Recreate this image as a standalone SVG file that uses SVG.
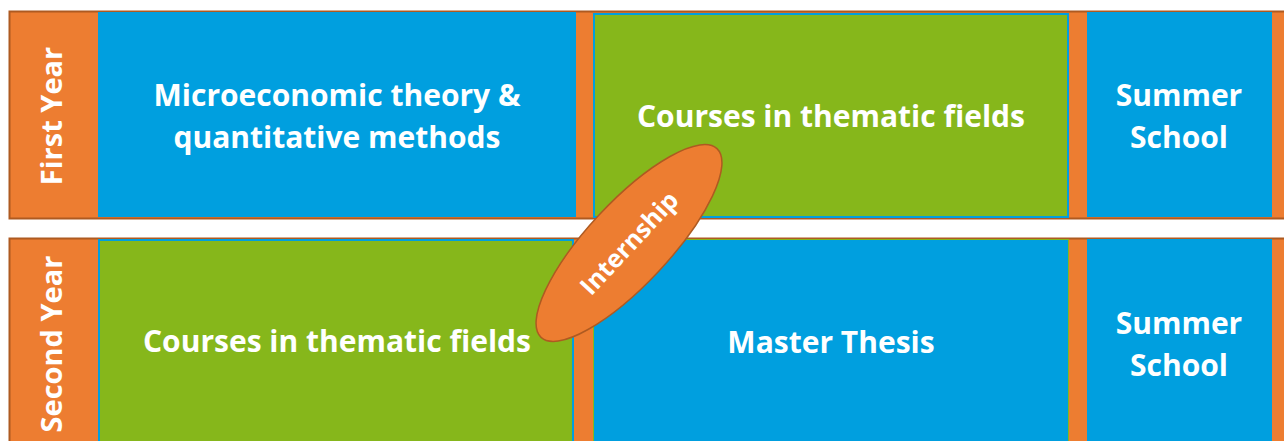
<svg xmlns="http://www.w3.org/2000/svg" width="1284" height="441" viewBox="0 0 1284 441">
<style>
.or{fill:#ED7D31}
.bl{fill:#009FDF}
.gr{fill:#86B71B}
.t{font-family:"Open Sans",Lato,sans-serif;font-weight:bold;fill:#fff;font-size:30px;text-anchor:middle}
</style>
<rect width="1284" height="441" fill="#fff"/>
<g id="row1">
<rect class="or" x="9.5" y="11.5" width="1290" height="207" stroke="#AE5A21" stroke-width="2"/>
</g>
<g id="row2">
<rect class="or" x="9.5" y="238.5" width="1290" height="220" stroke="#AE5A21" stroke-width="2"/>
</g>
<g id="first-year"><text class="t" transform="translate(62,116) rotate(-90)" style="font-size:29px">First Year</text></g>
<g id="second-year"><text class="t" transform="translate(62,344) rotate(-90)" style="font-size:29px">Second Year</text></g>
<g id="micro">
<rect class="bl" x="98" y="12" width="478" height="205"/>
<text class="t" x="337" y="106">Microeconomic theory &amp;</text>
<text class="t" x="337" y="148">quantitative methods</text>
</g>
<g id="courses1">
<rect class="gr" x="594" y="14" width="474" height="203" stroke="#009FDF" stroke-width="2"/>
<text class="t" x="831" y="127">Courses in thematic fields</text>
</g>
<g id="summer1">
<rect class="bl" x="1087" y="12" width="185" height="205"/>
<text class="t" x="1179" y="106">Summer</text>
<text class="t" x="1179" y="148">School</text>
</g>
<g id="courses2">
<rect class="gr" x="99" y="240" width="474" height="210" stroke="#009FDF" stroke-width="2"/>
<text class="t" x="337" y="352">Courses in thematic fields</text>
</g>
<g id="thesis">
<rect class="bl" x="593.5" y="239.5" width="475" height="210" stroke="#86B71B" stroke-width="1"/>
<text class="t" x="831" y="353">Master Thesis</text>
</g>
<g id="summer2">
<rect class="bl" x="1087" y="239" width="185" height="210"/>
<text class="t" x="1179" y="334">Summer</text>
<text class="t" x="1179" y="376">School</text>
</g>
<g id="internship" transform="translate(629,243) rotate(-47)">
<ellipse cx="0" cy="0" rx="129" ry="41" fill="#ED7D31" stroke="#AE5A21" stroke-width="1.5"/>
<text class="t" x="0" y="9" style="font-size:25px">Internship</text>
</g>
</svg>
